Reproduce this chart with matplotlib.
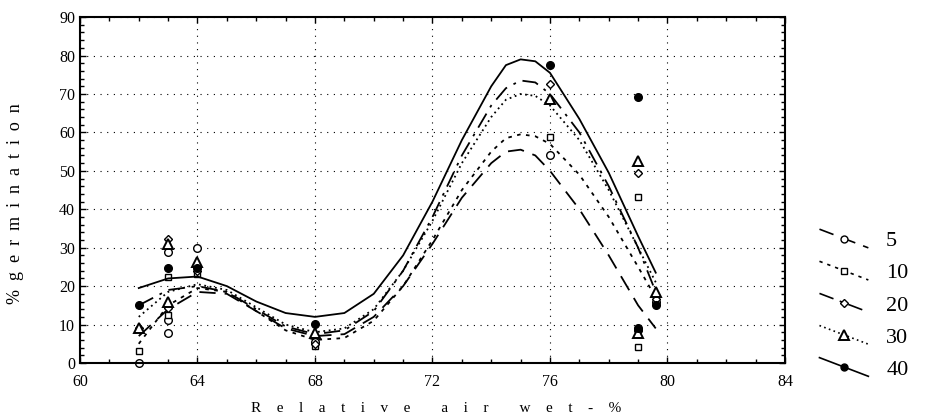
"""Germination vs relative air humidity — recreated scatter with fitted curves."""

import matplotlib
matplotlib.use("Agg")
import matplotlib.pyplot as plt
from matplotlib.legend_handler import HandlerLine2D
from matplotlib.lines import Line2D
from matplotlib.ticker import MultipleLocator

plt.rcParams["font.family"] = ["Liberation Serif", "DejaVu Serif"]

# observed points per series (x = relative air humidity, y = % germination)
pts_x = {
    "5":  [62, 63, 63, 63, 64, 68, 76, 79, 79.6],
    "10": [62, 63, 63, 64, 68, 76, 79, 79],
    "20": [62, 63, 63, 64, 68, 76, 79, 79, 79.6],
    "30": [62, 63, 63, 64, 68, 76, 79, 79, 79.6],
    "40": [62, 63, 64, 68, 76, 79, 79, 79.6],
}
pts_y = {
    "5":  [0, 29.0, 11.2, 7.8, 29.8, 5.5, 54.0, 8.5, 15.9],
    "10": [3, 22.4, 12.5, 23.2, 4.4, 58.8, 43.2, 4.2],
    "20": [9, 32.3, 14.3, 24.0, 5.0, 72.6, 49.4, 8.5, 16.6],
    "30": [9, 31.0, 15.8, 26.4, 7.8, 68.7, 52.5, 7.8, 18.5],
    "40": [15, 24.6, 24.7, 10.2, 77.5, 69.2, 9.1, 15.1],
}

# fitted curves
curve_x = [62, 63, 64, 65, 66, 67, 68, 69, 70, 71, 72, 73, 74, 74.5, 75, 75.5, 76, 77, 78, 79, 79.6]
curve_y = {
    "5":  [7, 14, 18.5, 18, 13.5, 9, 7, 7.5, 12, 20, 31, 43, 52, 55, 55.5, 54, 50, 40, 28, 15, 9],
    "10": [5, 15, 19.5, 18.5, 13.5, 8.5, 6, 6.5, 11, 20, 32, 45, 55, 58.5, 59.5, 59, 57, 49, 38, 25, 17],
    "20": [15, 19, 20, 18.5, 14, 9.5, 7.5, 8.5, 13.5, 24, 38, 54, 67, 71.5, 73.5, 73, 70, 60, 46, 30, 18.5],
    "30": [12, 18.5, 20.5, 19, 14.5, 10, 8, 9, 14, 24, 37, 52, 64, 68.5, 70, 69.5, 67, 58, 45, 30, 21],
    "40": [19.5, 22, 22.5, 20, 16, 13, 12, 13, 18, 28, 42, 58, 72, 77.5, 79, 78.5, 75.5, 63.5, 49.5, 33, 23.5],
}

labels = ["5", "10", "20", "30", "40"]
styles = {
    "5":  dict(ls=(0, (9, 5)), marker="o", mfc="white", ms=5.5),
    "10": dict(ls=(0, (2, 3)), marker="s", mfc="white", ms=5),
    "20": dict(ls=(0, (9, 4, 1.5, 4)), marker="D", mfc="white", ms=4.5),
    "30": dict(ls=(0, (1, 2)), marker="^", mfc="white", ms=7),
    "40": dict(ls="-", marker="o", mfc="black", ms=5.5),
}


class SlantHandler(HandlerLine2D):
    """Legend key with a slanted line and the marker in the middle."""

    def create_artists(self, legend, orig_handle, xdescent, ydescent,
                       width, height, fontsize, trans):
        x0, x1 = -xdescent, width - xdescent
        y0, y1 = height * 1.1 - ydescent, -height * 0.1 - ydescent
        line = Line2D([x0, x1], [y0, y1])
        self.update_prop(line, orig_handle, legend)
        line.set_marker("None")
        line.set_transform(trans)
        mk = Line2D([(x0 + x1) / 2], [(y0 + y1) / 2])
        self.update_prop(mk, orig_handle, legend)
        mk.set_linestyle("None")
        mk.set_transform(trans)
        return [line, mk]


def spaced(words, gap=4, wgap=8):
    return (" " * wgap).join((" " * gap).join(w) for w in words)


fig = plt.figure(figsize=(9.27, 4.17), dpi=100)
ax = fig.add_axes([0.0863, 0.1295, 0.7605, 0.8295])

handles = []
for lab in labels:
    st = styles[lab]
    ax.plot(curve_x, curve_y[lab], color="black", lw=1.3, ls=st["ls"])
    ax.plot(pts_x[lab], pts_y[lab], ls="none", marker=st["marker"], ms=st["ms"],
            mfc=st["mfc"], mec="black", mew=1.4 if lab == "30" else 1.0, clip_on=False)
    handles.append(Line2D([], [], color="black", lw=1.2, ls=st["ls"], marker=st["marker"],
                          ms=st["ms"] - 0.5, mfc=st["mfc"], mec="black",
                          mew=1.4 if lab == "30" else 1.0))

ax.set_xlim(60, 84)
ax.set_ylim(0, 90)
ax.xaxis.set_major_locator(MultipleLocator(4))
ax.xaxis.set_minor_locator(MultipleLocator(1))
ax.yaxis.set_major_locator(MultipleLocator(10))
ax.yaxis.set_minor_locator(MultipleLocator(2))
ax.tick_params(which="both", direction="in", top=True, right=True, labelsize=11.5, width=1.0)
ax.tick_params(which="major", length=4)
ax.tick_params(which="minor", length=3)
ax.tick_params(axis="x", pad=8)
for s in ax.spines.values():
    s.set_linewidth(1.5)
ax.grid(True, which="major", color="black", lw=0.8, ls=(0, (1, 5)))

ax.set_xlabel(spaced(["Relative", "air", "wet-%"]), fontsize=11)
ax.xaxis.set_label_coords(0.505, -0.113)
ax.set_ylabel(spaced(["%", "germination"], gap=2, wgap=2), fontsize=13)
ax.yaxis.set_label_coords(-0.079, 0.46)

fig.legend(handles, labels, handler_map={Line2D: SlantHandler()},
           loc="center left", bbox_to_anchor=(0.884, 0.268), frameon=False,
           fontsize=16, handlelength=2.2, labelspacing=0.52, handletextpad=0.8,
           borderpad=0, borderaxespad=0)

fig.savefig("out.png", dpi=100)
